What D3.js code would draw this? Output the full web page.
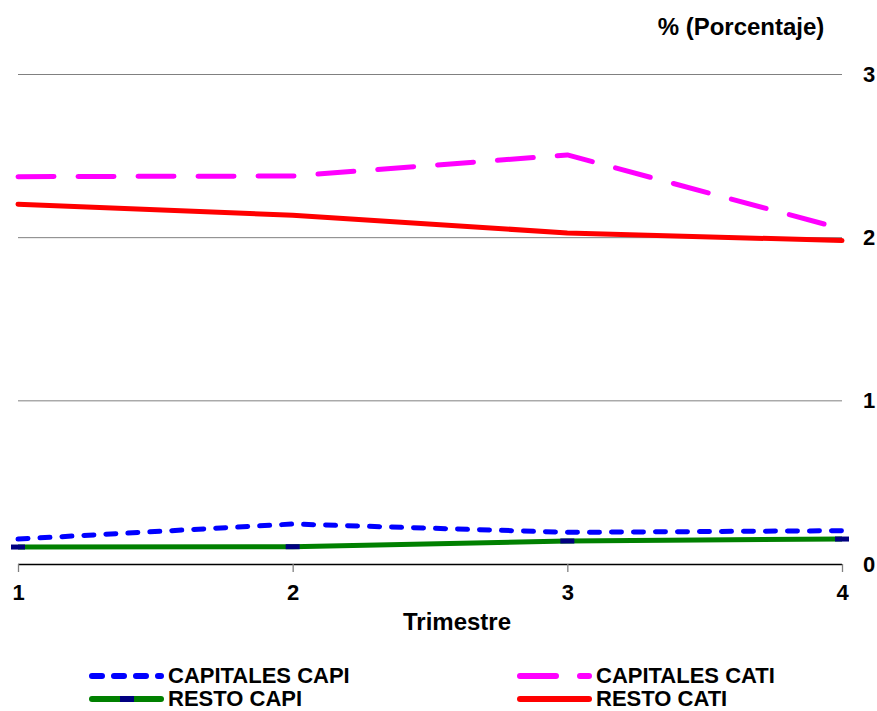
<!DOCTYPE html>
<html><head><meta charset="utf-8">
<script src="https://cdn.jsdelivr.net/npm/d3@7"></script>
<style>
body{margin:0;background:#fff;}
text{font-family:"Liberation Sans",Arial,sans-serif;font-weight:bold;fill:#000;}
</style></head>
<body><svg id="c" width="877" height="711"></svg>
<script>
const categories = [1, 2, 3, 4];
const capitalesCapi = [0.153, 0.245, 0.194, 0.204];
const capitalesCati = [2.374, 2.378, 2.507, 2.054];
const restoCapi = [0.104, 0.106, 0.141, 0.153];
const restoCati = [2.205, 2.137, 2.029, 1.982];
const yTicks = [0, 1, 2, 3];
const seriesNames = ["CAPITALES CAPI", "CAPITALES CATI", "RESTO CAPI", "RESTO CATI"];
const yTitle = "% (Porcentaje)";
const xTitle = "Trimestre";

const series = [
  {name: seriesNames[0], values: capitalesCapi, color: "#0000ff", width: 5, dash: "10,12", cap: "round"},
  {name: seriesNames[1], values: capitalesCati, color: "#ff00ff", width: 5, dash: "36,24", cap: "round"},
  {name: seriesNames[2], values: restoCapi, color: "#008000", width: 5, dash: null, cap: "butt", marker: "#000080"},
  {name: seriesNames[3], values: restoCati, color: "#ff0000", width: 5, dash: null, cap: "round"}
];

const svg = d3.select("#c");
const x = d3.scalePoint().domain(categories).range([18, 842]);
const y = d3.scaleLinear().domain([0, 3]).range([564, 74.5]);
const FONT = '"Liberation Sans",Arial,sans-serif';

// gridlines
svg.append("g").selectAll("line").data(yTicks.filter(d => d > 0)).join("line")
  .attr("x1", 18).attr("x2", 842)
  .attr("y1", d => y(d)).attr("y2", d => y(d))
  .attr("stroke", "#808080").attr("stroke-width", 1);

// x axis
const xAxis = svg.append("g").attr("transform", `translate(0,${y(0)})`)
  .call(d3.axisBottom(x).tickSize(8).tickPadding(12));
xAxis.select(".domain").attr("stroke", "#000").attr("stroke-width", 1.3)
  .attr("d", `M18,0.5H842`);
xAxis.selectAll(".tick line").attr("stroke", "#808080").attr("stroke-width", 1.3);
xAxis.selectAll(".tick text").style("font-size", "22px").style("font-family", FONT).style("font-weight", "bold").attr("fill", "#000");

// y axis labels on right
const yAxis = svg.append("g").attr("transform", `translate(842,0)`)
  .call(d3.axisRight(y).tickValues(yTicks).tickSize(0).tickPadding(21).tickFormat(d3.format("d")));
yAxis.select(".domain").remove();
yAxis.selectAll(".tick text").style("font-size", "22px").style("font-family", FONT).style("font-weight", "bold").attr("fill", "#000");

// titles
svg.append("text").attr("x", 741).attr("y", 35).attr("text-anchor", "middle")
  .style("font-size", "24px").text(yTitle);
svg.append("text").attr("x", 457).attr("y", 630).attr("text-anchor", "middle")
  .style("font-size", "24px").text(xTitle);

// lines
const line = d3.line().x((d, i) => x(categories[i])).y(d => y(d));
series.forEach(s => {
  const p = svg.append("path").datum(s.values).attr("d", line)
    .attr("fill", "none").attr("stroke", s.color).attr("stroke-width", s.width)
    .attr("stroke-linecap", s.cap).attr("stroke-linejoin", "round");
  if (s.dash) p.attr("stroke-dasharray", s.dash);
  if (s.marker) {
    svg.append("g").selectAll("rect").data(s.values).join("rect")
      .attr("x", (d, i) => x(categories[i]) - 7).attr("y", d => y(d) - 2.5)
      .attr("width", 14).attr("height", 5).attr("fill", s.marker);
  }
});

// legend
const legPos = [
  {lx: 92, ly: 676}, {lx: 520, ly: 676}, {lx: 92, ly: 699}, {lx: 520, ly: 699}
];
series.forEach((s, i) => {
  const g = svg.append("g").attr("transform", `translate(${legPos[i].lx},${legPos[i].ly})`);
  const l = g.append("line").attr("x1", 0).attr("x2", 69).attr("y1", 0).attr("y2", 0)
    .attr("stroke", s.color).attr("stroke-width", 6).attr("stroke-linecap", "round");
  if (s.dash) l.attr("stroke-dasharray", s.dash);
  if (s.marker) g.append("rect").attr("x", 28).attr("y", -3).attr("width", 14).attr("height", 6).attr("fill", s.marker);
  g.append("text").attr("x", 76).attr("y", 7).style("font-size", "22px").text(s.name);
});
</script></body></html>
